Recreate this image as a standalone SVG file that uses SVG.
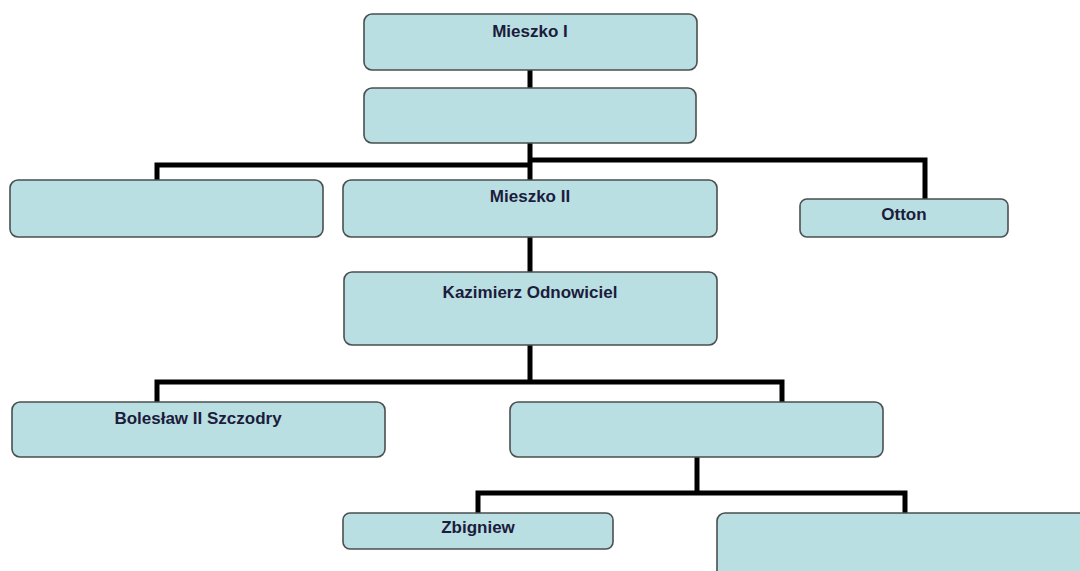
<svg xmlns="http://www.w3.org/2000/svg" width="1080" height="571" viewBox="0 0 1080 571">
<style>
.box{fill:#b9dfe2;stroke:#4a4f50;stroke-width:1.6}
.lbl{font-family:"Liberation Sans",Arial,sans-serif;font-weight:bold;font-size:17px;fill:#1c1c3c;text-anchor:middle}
.ln{fill:none;stroke:#000;stroke-width:5;stroke-linecap:butt;stroke-linejoin:miter}
</style>
<rect width="1080" height="571" fill="#fff"/>
<g id="connectors">
<path class="ln" d="M530 70V88"/>
<path class="ln" d="M530 143V180"/>
<path class="ln" d="M530 165H157V180"/>
<path class="ln" d="M530 160H925V199"/>
<path class="ln" d="M530 237V272"/>
<path class="ln" d="M530 345V382"/>
<path class="ln" d="M157 402V382H782V402"/>
<path class="ln" d="M697 457V493"/>
<path class="ln" d="M478 513V493H905V513"/>
</g>
<g id="mieszko1"><rect class="box" x="364" y="14" width="333" height="56" rx="8"/><text class="lbl" x="530" y="37">Mieszko I</text></g>
<g id="empty1"><rect class="box" x="364" y="88" width="332" height="55" rx="8"/></g>
<g id="empty2"><rect class="box" x="10" y="180" width="313" height="57" rx="8"/></g>
<g id="mieszko2"><rect class="box" x="343" y="180" width="374" height="57" rx="8"/><text class="lbl" x="530" y="202">Mieszko II</text></g>
<g id="otton"><rect class="box" x="800" y="199" width="208" height="38" rx="7"/><text class="lbl" x="904" y="220">Otton</text></g>
<g id="kazimierz"><rect class="box" x="344" y="272" width="373" height="73" rx="8"/><text class="lbl" x="530" y="298">Kazimierz Odnowiciel</text></g>
<g id="boleslaw"><rect class="box" x="12" y="402" width="373" height="55" rx="8"/><text class="lbl" x="198" y="424">Bolesław II Szczodry</text></g>
<g id="empty3"><rect class="box" x="510" y="402" width="373" height="55" rx="8"/></g>
<g id="zbigniew"><rect class="box" x="343" y="513" width="270" height="36" rx="7"/><text class="lbl" x="478" y="533">Zbigniew</text></g>
<g id="empty4"><rect class="box" x="717" y="513" width="375" height="70" rx="8"/></g>
</svg>
